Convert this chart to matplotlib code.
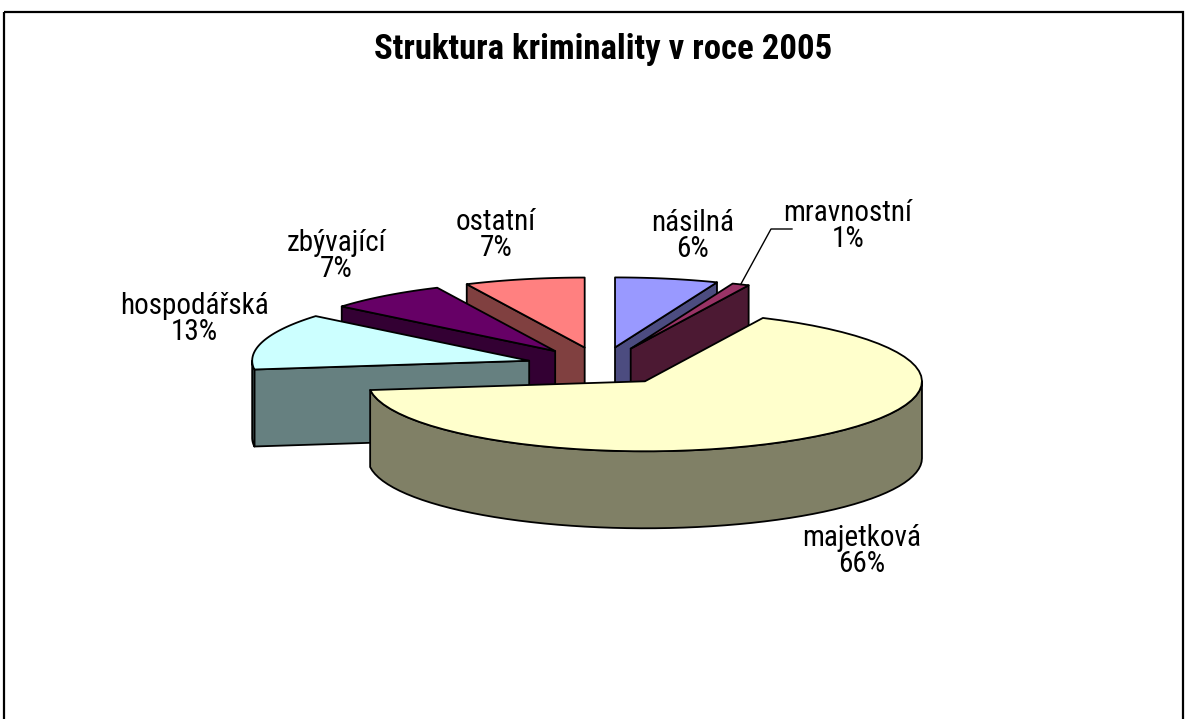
import numpy as np
import matplotlib
matplotlib.use('Agg')
import matplotlib.pyplot as plt
from matplotlib.patches import Polygon, Rectangle

# data
labels = ['násilná', 'mravnostní', 'majetková', 'hospodářská', 'zbývající', 'ostatní']
shares = [6, 1, 66, 13, 7, 7]
title = 'Struktura kriminality v roce 2005'

# Excel-like palette: top face / darker side
top_colors = ['#9999FF', '#993366', '#FFFFCC', '#CCFFFF', '#660066', '#FF8080']
side_colors = ['#4C4C80', '#4C1933', '#808066', '#668080', '#330033', '#804040']

# label centres (pixels)
label_xy = [(693, 236), (848, 226), (862, 551), (194, 319), (336, 256), (496, 235)]

# pie geometry in pixels
CX, CY = 601, 366
RX, RY = 277, 70
H = 77
EXPLODE = 0.27

fnt = ['Roboto Condensed', 'Liberation Sans', 'DejaVu Sans']

W, HGT = 1187, 719
fig = plt.figure(figsize=(W / 100, HGT / 100), dpi=100)
ax = fig.add_axes([0, 0, 1, 1])
ax.set_xlim(0, W)
ax.set_ylim(HGT, 0)
ax.axis('off')

# outer frame
ax.add_patch(Rectangle((4, 12), 1179, 720, fill=False, ec='k', lw=1.6))


def arc_pts(cx, cy, a0, a1, dz=0, n=60):
    t = np.linspace(a0, a1, n)
    return np.column_stack([cx + RX * np.sin(t), cy - RY * np.cos(t) + dz])


total = float(sum(shares))
cum = np.concatenate([[0], np.cumsum(shares)]) / total * 2 * np.pi
slices = []
for i in range(len(shares)):
    ts, te = cum[i], cum[i + 1]
    mid = (ts + te) / 2
    cx = CX + EXPLODE * RX * np.sin(mid)
    cy = CY - EXPLODE * RY * np.cos(mid)
    slices.append((np.cos(mid), i, ts, te, cx, cy))

# paint from back to front
slices.sort(key=lambda s: -s[0])
kw = dict(ec='k', lw=1.3, joinstyle='round')
for _, i, ts, te, cx, cy in slices:
    apex = np.array([[cx, cy]])
    # radial faces
    for a, vis in ((ts, np.sin(ts) < -1e-9), (te, np.sin(te) > 1e-9)):
        if vis:
            ox, oy = cx + RX * np.sin(a), cy - RY * np.cos(a)
            face = [(cx, cy), (ox, oy), (ox, oy + H), (cx, cy + H)]
            ax.add_patch(Polygon(face, fc=side_colors[i], **kw))
    # curved outer side (front half only)
    a0, a1 = max(ts, np.pi / 2), min(te, 3 * np.pi / 2)
    if a1 > a0:
        top = arc_pts(cx, cy, a0, a1)
        bot = arc_pts(cx, cy, a0, a1, dz=H)[::-1]
        ax.add_patch(Polygon(np.vstack([top, bot]), fc=side_colors[i], **kw))
    # top face
    ax.add_patch(Polygon(np.vstack([apex, arc_pts(cx, cy, ts, te)]),
                         fc=top_colors[i], **kw))

# labels
for i, (lx, ly) in enumerate(label_xy):
    pct = round(shares[i] / total * 100)
    ax.text(lx, ly, f'{labels[i]}\n{pct}%', ha='center', va='center',
            fontsize=21, family=fnt, linespacing=0.9, color='k')

# leader line for the thin slice
i = labels.index('mravnostní')
mid = (cum[i] + cum[i + 1]) / 2
cx = CX + EXPLODE * RX * np.sin(mid)
cy = CY - EXPLODE * RY * np.cos(mid)
sx, sy = cx + RX * np.sin(mid), cy - RY * np.cos(mid)
ax.plot([sx, 771, 792], [sy, 229, 229], color='k', lw=1.0)

ax.text(W / 2 + 10, 50, title, ha='center', va='center', fontsize=25,
        fontweight='bold', family=fnt, color='k')

fig.savefig('out.png', dpi=100)
